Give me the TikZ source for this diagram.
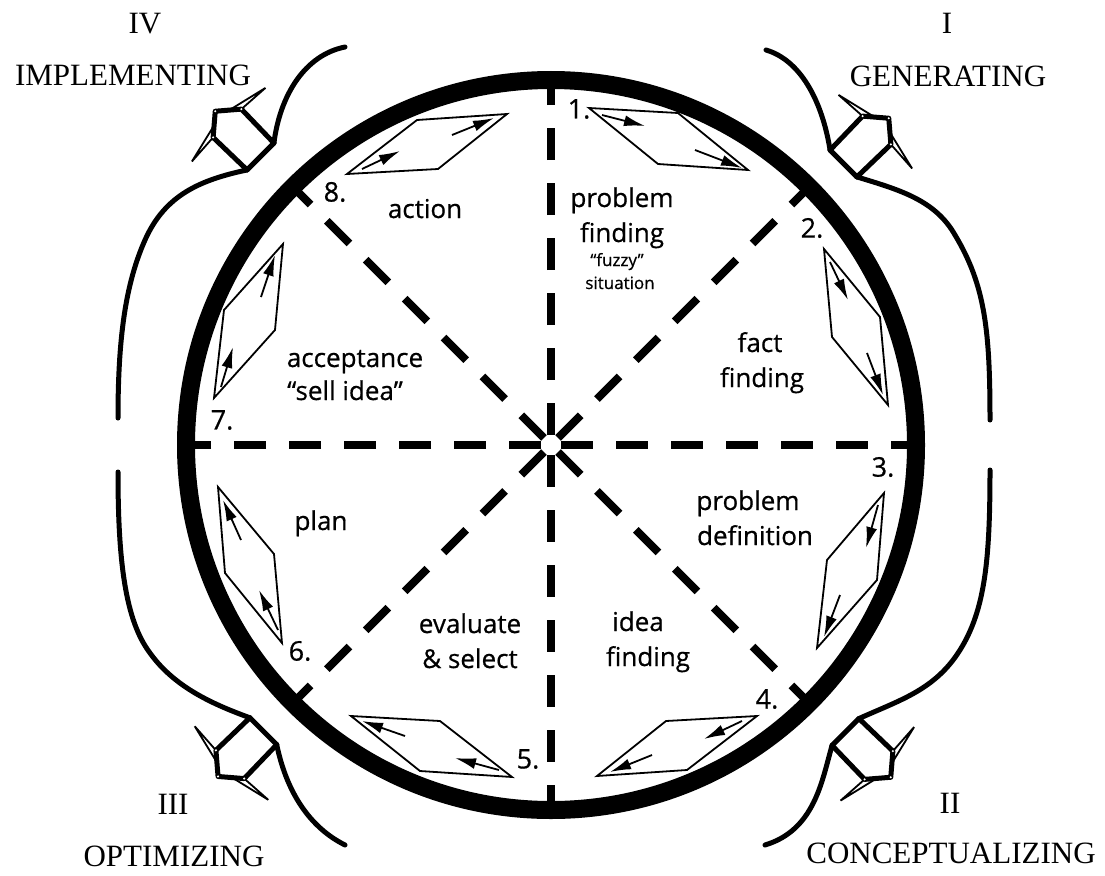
\documentclass[tikz,border=0pt]{standalone}
\usepackage{fontspec}
\setmainfont{Liberation Serif}
\newfontfamily\hand[FakeBold=0.6]{Open Sans}
\usetikzlibrary{arrows.meta,calc}
\tikzset{
  ring/.style={line width=18pt},
  spoke/.style={line width=8pt, dash pattern=on 32pt off 23pt},
  cur/.style={line width=5pt, line cap=round, line join=round},
  para/.style={line width=1.8pt, line join=miter},
  parr/.style={line width=1.8pt, -{Latex[length=21pt,width=11pt]}},
  lab/.style={font=\hand\fontsize{26}{30}\selectfont, anchor=base, inner sep=0pt},
  small/.style={font=\hand\fontsize{17}{20}\selectfont, anchor=base, inner sep=0pt},
  num/.style={font=\hand\fontsize{27}{30}\selectfont, inner sep=0pt},
  roman/.style={font=\fontsize{31}{36}\selectfont, inner sep=0pt},
  spike/.style={line width=1.8pt, fill=white, line join=miter},
  dot/.style={fill=white, inner sep=0pt, minimum size=2.4pt, circle}
}
\newcommand{\blockarrow}[3]{% #1 name prefix, #2 centre of base, #3 outward angle
  \begin{scope}[shift={#2}, rotate=#3]
    \coordinate (#1P1) at (0,-19);
    \coordinate (#1P2) at (0,19);
    \coordinate (#1S1) at (47,-20);
    \coordinate (#1S2) at (47,20);
    \coordinate (#1A) at (64,0);
    \coordinate (#1B1) at (45,-52);
    \coordinate (#1B2) at (45,52);
    \draw[spike] (#1B1) -- (#1S1) -- (55,-10) -- cycle;
    \draw[spike] (#1B2) -- (#1S2) -- (55,10) -- cycle;
    \draw[cur] (#1P1) -- (#1P2);
    \draw[cur] (#1P1) -- (#1S1) -- (#1A) -- (#1S2) -- (#1P2);
    \foreach \p in {P1,P2,S1,S2,A} \node[dot] at (#1\p) {};
  \end{scope}
}
\begin{document}
\begin{tikzpicture}[x=1pt,y=-1pt]
\useasboundingbox (0,0) rectangle (1105,875);
\coordinate (c) at (551,445);
% spokes
\foreach \a in {0,45,...,315}
  \draw[spoke] ($(c)+(\a:10)$) -- ($(c)+(\a:358)$);
% ring
\draw[ring] (c) circle[radius=365pt];

% block arrows
\blockarrow{tr}{(843.5,163.5)}{45}
\blockarrow{br}{(845.5,732)}{-45}
\blockarrow{bl}{(263.3,731.2)}{-135}
\blockarrow{tl}{(260.5,156.5)}{135}

% outer curves
\coordinate (trs) at (766,50);
\coordinate (tre) at (990,420);
\coordinate (brs) at (990,470);
\coordinate (bre) at (765,845);
\coordinate (bls) at (345,845);
\coordinate (ble) at (118,472);
\coordinate (tls) at (118,418);
\coordinate (tle) at (345,47);
\draw[cur] (trs) .. controls (800,60) and (822,100) .. (trP1);
\draw[cur] (trP2) .. controls (900,190) and (935,200) .. (955,235) .. controls (985,285) and (990,330) .. (tre);
\draw[cur] (brs) .. controls (990,560) and (985,610) .. (960,650) .. controls (935,690) and (900,700) .. (brP1);
\draw[cur] (brP2) .. controls (822,780) and (815,830) .. (bre);
\draw[cur] (ble) .. controls (118,560) and (125,620) .. (150,653) .. controls (175,688) and (215,705) .. (blP2);
\draw[cur] (blP1) .. controls (285,785) and (305,825) .. (bls);
\draw[cur] (tle) .. controls (305,55) and (280,95) .. (tlP2);
\draw[cur] (tlP1) .. controls (200,180) and (165,195) .. (145,240) .. controls (125,285) and (118,340) .. (tls);

% parallelograms
\draw[para] (589,108) -- (678,113) -- (748,170) -- (658,164) -- cycle;
\draw[parr] (602,115) -- (645,126);
\draw[parr] (695,150) -- (742,168);

\draw[para] (824,249) -- (880,317) -- (888,405) -- (832,337) -- cycle;
\draw[parr] (830,262) -- (848,300);
\draw[parr] (867,353) -- (883,395);

\draw[para] (884,493) -- (877,580) -- (817,648) -- (827,560) -- cycle;
\draw[parr] (878,505) -- (866,548);
\draw[parr] (840,595) -- (824,637);

\draw[para] (757,716) -- (666,721) -- (597,776) -- (687,770) -- cycle;
\draw[parr] (742,721) -- (704,739);
\draw[parr] (652,755) -- (610,772);

\draw[para] (351,716) -- (440,721) -- (512,777) -- (420,771) -- cycle;
\draw[parr] (405,736) -- (362,721);
\draw[parr] (499,770) -- (455,758);

\draw[para] (218,487) -- (274,554) -- (282,643) -- (225,573) -- cycle;
\draw[parr] (278,630) -- (259,590);
\draw[parr] (241,540) -- (223,500);

\draw[para] (283,244) -- (275,330) -- (214,398) -- (224,310) -- cycle;
\draw[parr] (221,387) -- (233,347);
\draw[parr] (261,297) -- (275,255);

\draw[para] (347,174) -- (438,169) -- (507,114) -- (417,120) -- cycle;
\draw[parr] (362,169) -- (400,151);
\draw[parr] (452,135) -- (494,118);

% numbers
\node[num] (n1) at (579,109) {1.};
\node[num] (n2) at (812,228) {2.};
\node[num] (n3) at (883,467) {3.};
\node[num] (n4) at (767,699) {4.};
\node[num] (n5) at (528,759) {5.};
\node[num] (n6) at (300,651) {6.};
\node[num] (n7) at (222,420) {7.};
\node[num] (n8) at (335,192) {8.};

% sector labels
\node[lab] (l1a) at (622,207) {problem};
\node[lab] (l1b) at (622,242) {finding};
\node[small] (l1c) at (617,266) {“fuzzy”};
\node[small] (l1d) at (620,289) {situation};
\node[lab] (l2a) at (760,352) {fact};
\node[lab] (l2b) at (762,387) {finding};
\node[lab] (l3a) at (748,510) {problem};
\node[lab] (l3b) at (755,545) {definition};
\node[lab] (l4a) at (638,631) {idea};
\node[lab] (l4b) at (648,666) {finding};
\node[lab] (l5a) at (470,633) {evaluate};
\node[lab] (l5b) at (470,668) {\& select};
\node[lab] (l6a) at (321,530) {plan};
\node[lab] (l7a) at (355,367) {acceptance};
\node[lab] (l7b) at (345,400) {“sell idea”};
\node[lab] (l8a) at (425,218) {action};

% quadrant titles
\node[roman] (r1) at (947,23) {I};
\node[roman] (t1) at (948,76) {GENERATING};
\node[roman] (r2) at (950,803) {II};
\node[roman] (t2) at (951,853) {CONCEPTUALIZING};
\node[roman] (r3) at (173,804) {III};
\node[roman] (t3) at (174,856) {OPTIMIZING};
\node[roman] (r4) at (145,24) {IV};
\node[roman] (t4) at (133,75) {IMPLEMENTING};
\end{tikzpicture}
\end{document}
